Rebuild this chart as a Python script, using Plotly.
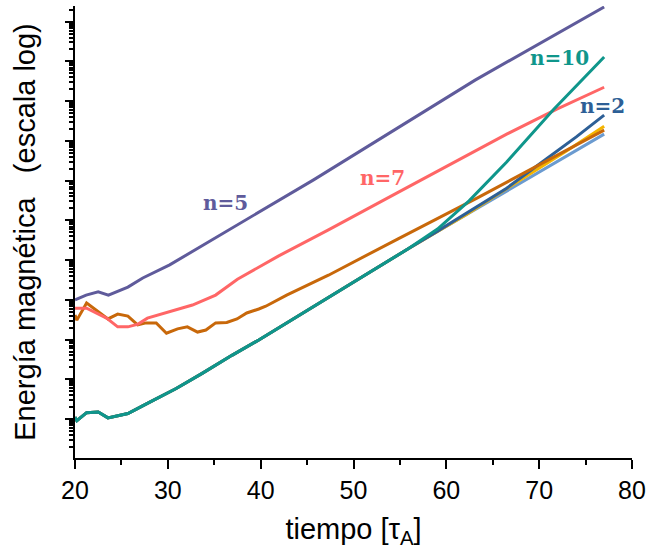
import plotly.graph_objects as go

# ---- data (log10 of magnetic energy, arbitrary units) ----
t_n5 = [20, 21.2, 22.5, 23.6, 25.7, 27.3, 30.2, 45.7, 63.1, 77]
logE_n5 = [3.00, 3.12, 3.20, 3.12, 3.32, 3.55, 3.88, 6.02, 8.53, 10.37]

t_n7 = [20, 21.25, 23.4, 24.6, 25.7, 26.8, 27.8, 29.8, 32.65, 35.15, 37.5, 41.9, 47.3, 54.75, 63.3, 66.5, 71.9, 77]
logE_n7 = [2.79, 2.79, 2.54, 2.32, 2.32, 2.39, 2.54, 2.67, 2.87, 3.12, 3.52, 4.10, 4.76, 5.70, 6.78, 7.17, 7.80, 8.35]

t_orange = [20, 20.2, 21.25, 22.3, 23.55, 24.6, 25.7, 26.75, 27.65, 28.75, 29.85, 31.05, 32.1, 33.2, 34.1,
            35.15, 36.35, 37.45, 38.5, 39.8, 40.55, 42.8, 47.3, 54.75, 63.3, 77]
logE_orange = [2.62, 2.49, 2.92, 2.74, 2.52, 2.64, 2.59, 2.37, 2.42, 2.42, 2.16, 2.27, 2.32, 2.19, 2.24,
               2.42, 2.43, 2.52, 2.67, 2.77, 2.84, 3.12, 3.62, 4.53, 5.56, 7.27]

t_n10 = [20, 20.2, 21.25, 22.5, 23.55, 25.7, 27.85, 30.9, 33.7, 36.95, 39.8, 47.3, 52.6, 55.85,
         59.05, 62.45, 66.5, 71.5, 77]
logE_n10 = [0.05, -0.04, 0.16, 0.18, 0.03, 0.14, 0.40, 0.77, 1.15, 1.61, 1.99, 3.07, 3.83, 4.28,
            4.78, 5.49, 6.47, 7.78, 9.11]

t_n2 = [20, 20.2, 21.25, 22.5, 23.55, 25.7, 27.85, 30.9, 33.7, 36.95, 39.8, 47.3, 52.6, 55.85,
        59.05, 62.25, 66.5, 70.8, 74, 77]
logE_n2 = [0.05, -0.04, 0.16, 0.18, 0.03, 0.14, 0.40, 0.77, 1.15, 1.61, 1.99, 3.07, 3.83, 4.28,
           4.73, 5.20, 5.81, 6.55, 7.10, 7.65]

t_lblue = [20, 20.2, 21.25, 22.5, 23.55, 25.7, 27.85, 30.9, 33.7, 36.95, 39.8, 47.3, 52.6, 55.85,
           59.05, 68.65, 77]
logE_lblue = [0.05, -0.04, 0.16, 0.18, 0.03, 0.14, 0.40, 0.77, 1.15, 1.61, 1.99, 3.07, 3.83, 4.28,
              4.72, 6.02, 7.17]

t_gold = [20, 20.2, 21.25, 22.5, 23.55, 25.7, 27.85, 30.9, 33.7, 36.95, 39.8, 47.3, 52.6, 55.85,
          59.05, 62.25, 68.65, 72.9, 77]
logE_gold = [0.05, -0.04, 0.16, 0.18, 0.03, 0.14, 0.40, 0.77, 1.15, 1.61, 1.99, 3.07, 3.83, 4.28,
             4.72, 5.16, 6.12, 6.74, 7.37]

labels = ["n=5", "n=7", "n=10", "n=2"]
label_t = [36.26, 53.1, 72.2, 76.8]
label_logE = [5.44, 6.06, 9.09, 7.87]

C_N5 = "#5f5b9b"
C_N7 = "#ff6666"
C_N10 = "#0f968b"
C_N2 = "#2d5f96"
C_OR = "#c8680a"
C_GOLD = "#f4b400"
C_LB = "#6b9bd0"


def energy(logs):
    return [10 ** v for v in logs]


fig = go.Figure()
series = [
    (t_lblue, logE_lblue, C_LB),
    (t_gold, logE_gold, C_GOLD),
    (t_n2, logE_n2, C_N2),
    (t_orange, logE_orange, C_OR),
    (t_n7, logE_n7, C_N7),
    (t_n5, logE_n5, C_N5),
    (t_n10, logE_n10, C_N10),
]
for tx, ly, col in series:
    fig.add_trace(go.Scatter(x=tx, y=energy(ly), mode="lines",
                             line=dict(color=col, width=3), hoverinfo="skip"))

label_colors = [C_N5, C_N7, C_N10, C_N2]
for txt, tx, ly, col in zip(labels, label_t, label_logE, label_colors):
    fig.add_annotation(x=tx, y=ly, xref="x", yref="y", text="<b>%s</b>" % txt,
                       showarrow=False, font=dict(family="DejaVu Serif", size=20, color=col))

fig.update_layout(
    width=652, height=555,
    margin=dict(l=75, r=16, t=6, b=97),
    paper_bgcolor="white", plot_bgcolor="white",
    showlegend=False,
    font=dict(family="Liberation Sans, Arial, sans-serif", color="black"),
    xaxis=dict(
        range=[20, 80], showline=True, linecolor="black", linewidth=2,
        ticks="outside", ticklen=9, tickwidth=2, tickcolor="black",
        dtick=10, tick0=20, showgrid=False, zeroline=False,
        tickfont=dict(size=25),
        minor=dict(ticks="outside", ticklen=5, tickwidth=1.5, tickcolor="black", dtick=5),
        title=dict(text="tiempo [τ<sub>A</sub>]", font=dict(size=29), standoff=16),
    ),
    yaxis=dict(
        type="log", range=[-0.98, 10.395], showline=True, linecolor="black", linewidth=2,
        ticks="outside", ticklen=8, tickwidth=2, tickcolor="black",
        dtick=1, showticklabels=False, showgrid=False, zeroline=False,
        minor=dict(ticks="outside", ticklen=4, tickwidth=1.5, tickcolor="black", dtick="D1"),
        title=dict(text="Energía magnética\u00a0\u00a0\u00a0(escala log)", font=dict(size=29), standoff=21),
    ),
)

fig.write_html("out.html")
